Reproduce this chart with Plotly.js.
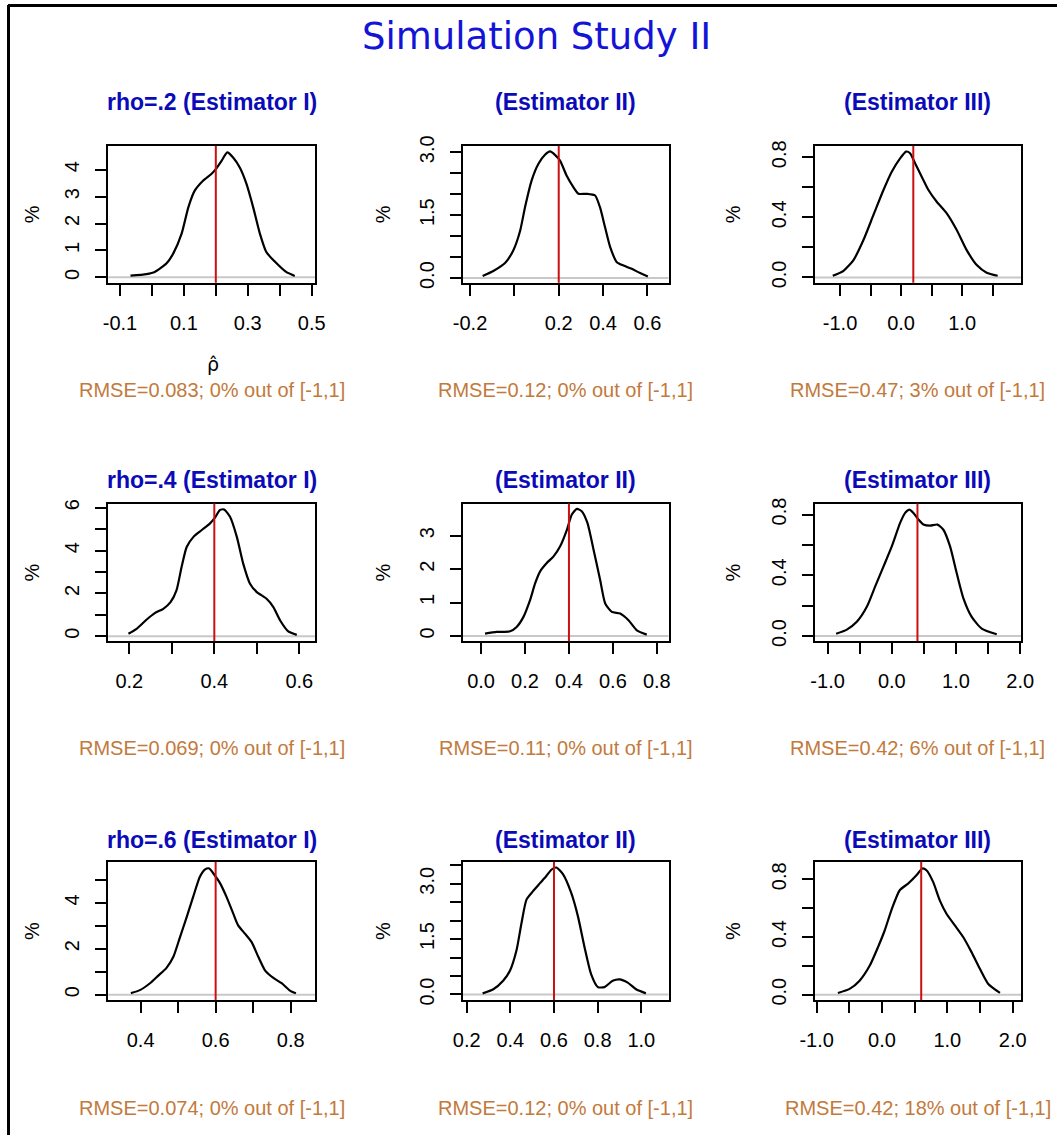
<!DOCTYPE html>
<html>
<head>
<meta charset="utf-8">
<script src="https://cdn.plot.ly/plotly-3.0.1.min.js"></script>
<style>html,body{margin:0;padding:0;background:#fff;}#chart{width:1057px;height:1135px;}</style>
</head>
<body>
<div id="chart"></div>
<script>
// ---------- data ----------
const mainTitle = "Simulation Study II";
const panelTitles = ["rho=.2 (Estimator I)", "(Estimator II)", "(Estimator III)",
                     "rho=.4 (Estimator I)", "(Estimator II)", "(Estimator III)",
                     "rho=.6 (Estimator I)", "(Estimator II)", "(Estimator III)"];
const rmseTexts = ["RMSE=0.083; 0% out of [-1,1]", "RMSE=0.12; 0% out of [-1,1]", "RMSE=0.47; 3% out of [-1,1]",
                   "RMSE=0.069; 0% out of [-1,1]", "RMSE=0.11; 0% out of [-1,1]", "RMSE=0.42; 6% out of [-1,1]",
                   "RMSE=0.074; 0% out of [-1,1]", "RMSE=0.12; 0% out of [-1,1]", "RMSE=0.42; 18% out of [-1,1]"];
const rhoValues = [0.2, 0.2, 0.2, 0.4, 0.4, 0.4, 0.6, 0.6, 0.6];
const xLabel = "\u03C1\u0302";

const p1x = [-0.067,-0.017,0.009,0.046,0.067,0.093,0.114,0.134,0.160,0.186,0.200,0.218,0.236,0.254,0.275,0.296,0.317,0.338,0.358,0.390,0.420,0.447];
const p1y = [0.06,0.12,0.20,0.52,0.89,1.62,2.60,3.22,3.59,3.84,4.02,4.33,4.64,4.45,4.08,3.47,2.60,1.62,0.94,0.52,0.20,0.05];
const p2x = [-0.143,-0.095,-0.042,-0.005,0.026,0.048,0.078,0.108,0.138,0.161,0.183,0.206,0.236,0.266,0.289,0.326,0.364,0.386,0.409,0.432,0.462,0.492,0.529,0.567,0.602];
const p2y = [0.05,0.17,0.36,0.66,1.13,1.69,2.33,2.72,2.94,3.02,2.94,2.80,2.44,2.17,2.01,2.01,1.97,1.69,1.21,0.74,0.38,0.30,0.22,0.12,0.04];
const p3x = [-1.12,-0.944,-0.78,-0.617,-0.453,-0.289,-0.153,-0.016,0.082,0.147,0.229,0.338,0.448,0.584,0.748,0.912,1.075,1.24,1.403,1.583];
const p3y = [0.011,0.044,0.116,0.249,0.416,0.582,0.704,0.793,0.838,0.827,0.760,0.671,0.582,0.504,0.427,0.316,0.182,0.082,0.031,0.011];
const p4x = [0.198,0.217,0.241,0.260,0.280,0.297,0.311,0.323,0.335,0.351,0.370,0.390,0.402,0.413,0.423,0.437,0.453,0.468,0.484,0.500,0.523,0.539,0.555,0.574,0.594];
const p4y = [0.11,0.34,0.78,1.08,1.28,1.59,2.14,3.23,4.17,4.64,4.95,5.27,5.55,5.89,5.92,5.58,4.64,3.39,2.45,2.06,1.75,1.36,0.73,0.22,0.06];
const p5x = [0.018,0.071,0.132,0.162,0.193,0.223,0.246,0.269,0.299,0.330,0.360,0.391,0.413,0.436,0.458,0.484,0.512,0.542,0.565,0.595,0.633,0.671,0.709,0.754];
const p5y = [0.07,0.12,0.14,0.27,0.57,1.07,1.57,1.93,2.18,2.38,2.68,3.18,3.63,3.80,3.73,3.38,2.58,1.67,0.97,0.72,0.67,0.47,0.17,0.04];
const p6x = [-0.867,-0.70,-0.545,-0.389,-0.26,-0.13,0.0,0.13,0.208,0.275,0.337,0.415,0.493,0.597,0.711,0.804,0.908,1.012,1.116,1.245,1.401,1.635];
const p6y = [0.015,0.042,0.093,0.192,0.325,0.457,0.590,0.745,0.811,0.833,0.811,0.767,0.734,0.727,0.734,0.700,0.590,0.413,0.248,0.126,0.049,0.011];
const p7x = [0.374,0.398,0.425,0.447,0.469,0.487,0.505,0.523,0.540,0.558,0.572,0.583,0.594,0.612,0.629,0.647,0.660,0.678,0.696,0.714,0.732,0.754,0.776,0.798,0.814];
const p7y = [0.07,0.20,0.50,0.83,1.17,1.64,2.51,3.39,4.26,5.14,5.46,5.50,5.28,4.85,4.26,3.53,3.02,2.66,2.29,1.64,1.05,0.73,0.50,0.18,0.06];
const p8x = [0.273,0.322,0.367,0.398,0.428,0.451,0.474,0.504,0.535,0.565,0.588,0.611,0.641,0.679,0.710,0.740,0.770,0.801,0.831,0.869,0.900,0.938,0.976,1.021];
const p8y = [0.03,0.14,0.37,0.64,1.19,1.93,2.57,2.80,3.01,3.21,3.38,3.44,3.26,2.75,2.11,1.28,0.55,0.20,0.20,0.37,0.41,0.32,0.14,0.03];
const p9x = [-0.675,-0.496,-0.343,-0.189,-0.061,0.041,0.143,0.271,0.399,0.527,0.619,0.680,0.782,0.884,0.987,1.115,1.242,1.370,1.498,1.626,1.805];
const p9y = [0.012,0.040,0.097,0.200,0.330,0.445,0.585,0.724,0.770,0.828,0.875,0.863,0.782,0.654,0.561,0.480,0.400,0.295,0.179,0.074,0.012];

// tick values and labels per panel
const xTickVals = [[-0.1,0,0.1,0.2,0.3,0.4,0.5],[-0.2,0,0.2,0.4,0.6],[-1,-0.5,0,0.5,1,1.5],
                   [0.2,0.3,0.4,0.5,0.6],[0,0.2,0.4,0.6,0.8],[-1,-0.5,0,0.5,1,1.5,2],
                   [0.4,0.5,0.6,0.7,0.8],[0.2,0.4,0.6,0.8,1.0],[-1,-0.5,0,0.5,1,1.5,2]];
const xTickText = [["-0.1","","0.1","","0.3","","0.5"],["-0.2","","0.2","0.4","0.6"],["-1.0","","0.0","","1.0",""],
                   ["0.2","","0.4","","0.6"],["0.0","0.2","0.4","0.6","0.8"],["-1.0","","0.0","","1.0","","2.0"],
                   ["0.4","","0.6","","0.8"],["0.2","0.4","0.6","0.8","1.0"],["-1.0","","0.0","","1.0","","2.0"]];
const yTickVals = [[0,1,2,3,4],[0,0.5,1,1.5,2,2.5,3],[0,0.2,0.4,0.6,0.8],
                   [0,1,2,3,4,5,6],[0,1,2,3],[0,0.2,0.4,0.6,0.8],
                   [0,1,2,3,4,5],[0,0.5,1,1.5,2,2.5,3,3.5],[0,0.2,0.4,0.6,0.8]];
const yTickText = [["0","1","2","3","4"],["0.0","","","1.5","","","3.0"],["0.0","","0.4","","0.8"],
                   ["0","","2","","4","","6"],["0","1","2","3"],["0.0","","0.4","","0.8"],
                   ["0","","2","","4",""],["0.0","","","1.5","","","3.0",""],["0.0","","0.4","","0.8"]];
const xRanges = [[-0.1365,0.5104],[-0.233,0.695],[-1.419,1.965],[0.1506,0.6369],[-0.0835,0.853],[-1.204,2.013],[0.3138,0.8649],[0.1817,1.1247],[-1.033,2.127]];
const yRanges = [[-0.2,4.88],[-0.11,3.15],[-0.035,0.875],[-0.24,6.2],[-0.16,3.96],[-0.035,0.873],[-0.23,5.78],[-0.15,3.59],[-0.037,0.92]];

const xs = [p1x,p2x,p3x,p4x,p5x,p6x,p7x,p8x,p9x];
const ys = [p1y,p2y,p3y,p4y,p5y,p6y,p7y,p8y,p9y];

// ---------- layout geometry ----------
const W = 1057, H = 1135;
const colPx = [[108.3,315],[462.7,668.5],[814.5,1021]];
const rowPx = [[146,282.7],[503.5,641.3],[862,1000]];
const titleY = [102,480,840];
const rmseY = [390,748,1108];
const pctX = [32,383,733];
const FONT = "Liberation Sans, Arial, Helvetica, sans-serif";

const traces = [];
const layout = {
  width: W, height: H,
  margin: {l:0,r:0,t:0,b:0},
  paper_bgcolor: "#ffffff", plot_bgcolor: "#ffffff",
  showlegend: false,
  font: {family: FONT, size: 20, color: "#000"},
  annotations: [], shapes: []
};
const px2x = v => v / W;
const px2y = v => 1 - v / H;

for (let i = 0; i < 9; i++) {
  const r = Math.floor(i / 3), c = i % 3;
  const n = i === 0 ? "" : String(i + 1);
  const xa = "x" + n, ya = "y" + n;
  traces.push({x: xs[i], y: ys[i], xaxis: xa, yaxis: ya, type: "scatter", mode: "lines",
               line: {color: "#000", width: 2.2, shape: "spline", smoothing: 0.6}, hoverinfo: "skip"});
  const common = {showgrid: false, zeroline: false, showline: true, mirror: true,
                  linecolor: "#000", linewidth: 2, ticks: "outside", ticklen: 11, tickwidth: 2,
                  tickcolor: "#000", tickmode: "array", fixedrange: true,
                  tickfont: {family: FONT, size: 20, color: "#000"}};
  layout["xaxis" + n] = Object.assign({}, common, {
    domain: [px2x(colPx[c][0]), px2x(colPx[c][1])], anchor: ya,
    range: xRanges[i], tickvals: xTickVals[i], ticktext: xTickText[i], ticklabelstandoff: 10
  });
  layout["yaxis" + n] = Object.assign({}, common, {
    domain: [px2y(rowPx[r][1]), px2y(rowPx[r][0])], anchor: xa,
    range: yRanges[i], tickvals: yTickVals[i], ticktext: yTickText[i], tickangle: -90, ticklabelstandoff: 8
  });
  // gray zero line across the box
  layout.shapes.push({type: "line", xref: xa + " domain", yref: ya, x0: 0, x1: 1, y0: 0, y1: 0,
                      line: {color: "#c8c8c8", width: 2}, layer: "below"});
  // red true value line
  layout.shapes.push({type: "line", xref: xa, yref: ya + " domain", x0: rhoValues[i], x1: rhoValues[i], y0: 0, y1: 1,
                      line: {color: "#cc1010", width: 2}, layer: "above"});
  const cx = px2x((colPx[c][0] + colPx[c][1]) / 2);
  layout.annotations.push({text: "<b>" + panelTitles[i] + "</b>", xref: "paper", yref: "paper",
    x: cx, y: px2y(titleY[r]), xanchor: "center", yanchor: "middle", showarrow: false,
    font: {family: FONT, size: 23, color: "#0a0ab8"}});
  layout.annotations.push({text: rmseTexts[i], xref: "paper", yref: "paper",
    x: cx, y: px2y(rmseY[r]), xanchor: "center", yanchor: "middle", showarrow: false,
    font: {family: FONT, size: 20, color: "#c27a3c"}});
  layout.annotations.push({text: "%", xref: "paper", yref: "paper", textangle: -90,
    x: px2x(pctX[c]), y: px2y((rowPx[r][0] + rowPx[r][1]) / 2), xanchor: "center", yanchor: "middle", showarrow: false,
    font: {family: FONT, size: 20, color: "#000"}});
}
// x-axis label of first panel: rho-hat as one text
layout.annotations.push({text: xLabel, xref: "paper", yref: "paper", x: px2x(213), y: px2y(364),
  xanchor: "center", yanchor: "middle", showarrow: false, font: {family: "DejaVu Sans, sans-serif", size: 19, color: "#000"}});
// main title
layout.annotations.push({text: mainTitle, xref: "paper", yref: "paper", x: px2x(536), y: px2y(36),
  xanchor: "center", yanchor: "middle", showarrow: false, font: {family: "DejaVu Sans, sans-serif", size: 37, color: "#1414d6"}});
// outer frame (top and left edges)
layout.shapes.push({type: "line", xref: "paper", yref: "paper", x0: px2x(8), x1: 1, y0: px2y(5.5), y1: px2y(5.5), line: {color: "#000", width: 3}});
layout.shapes.push({type: "line", xref: "paper", yref: "paper", x0: px2x(8.5), x1: px2x(8.5), y0: px2y(5), y1: 0, line: {color: "#000", width: 3}});

Plotly.newPlot("chart", traces, layout, {staticPlot: true, displayModeBar: false});
</script>
</body>
</html>
